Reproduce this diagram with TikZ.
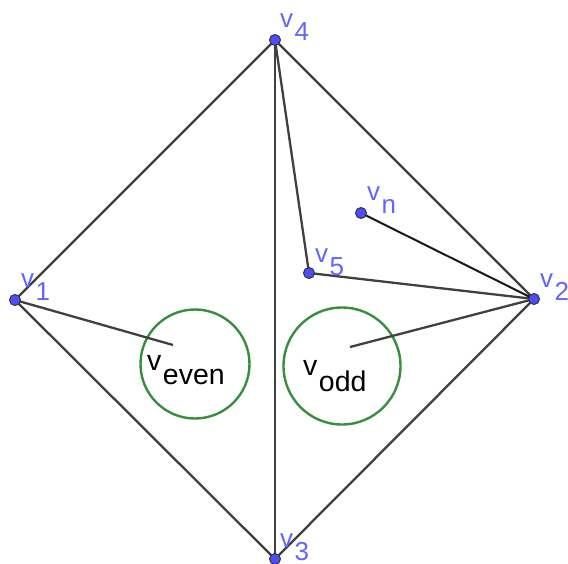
\documentclass[tikz,border=0pt]{standalone}
\usepackage{fontspec}
\setmainfont{Liberation Sans}
\definecolor{ptblue}{RGB}{77,77,255}
\definecolor{lblblue}{RGB}{100,100,255}
\definecolor{edgegray}{RGB}{64,64,64}
\definecolor{circgreen}{RGB}{56,142,60}
\newcommand{\vlab}[1]{v\kern1.5pt\lower13pt\hbox{#1}}
\newcommand{\vbig}[2]{v\kern1.5pt\lower#2pt\hbox{#1}}
\begin{document}
\begin{tikzpicture}[x=1pt,y=-1pt,
  vert/.style={circle,fill=ptblue,draw=black!80,line width=1pt,minimum size=11pt,inner sep=0pt},
  edge/.style={draw=edgegray,line width=2.3pt},
  darkedge/.style={draw=black!90,line width=2pt},
  grp/.style={circle,draw=circgreen,line width=2.4pt,inner sep=0pt},
  lbl/.style={anchor=base west,inner sep=0pt,text=lblblue,font=\fontsize{26}{26}\selectfont},
  biglbl/.style={anchor=base west,inner sep=0pt,text=black,font=\fontsize{28.5}{28.5}\selectfont}]
\useasboundingbox (0,0) rectangle (568,563);
\coordinate (p1) at (15,300);
\coordinate (p2) at (534,299);
\coordinate (p3) at (275,559);
\coordinate (p4) at (275,40);
\coordinate (p5) at (309,273);
\coordinate (pn) at (361,213);
\node[grp,minimum size=109pt] (ceven) at (195,364) {};
\node[grp,minimum size=117pt] (codd) at (342,366) {};
\coordinate (eeven) at (173,345);
\coordinate (eodd) at (350,347);
\draw[edge] (p1) -- (p4);
\draw[edge] (p4) -- (p2);
\draw[edge] (p2) -- (p3);
\draw[edge] (p3) -- (p1);
\draw[edge] (p4) -- (p3);
\draw[edge] (p4) -- (p5);
\draw[edge] (p5) -- (p2);
\draw[darkedge] (pn) -- (p2);
\draw[edge] (p1) -- (eeven);
\draw[edge] (p2) -- (eodd);
\node[vert] (v1) at (p1) {};
\node[vert] (v2) at (p2) {};
\node[vert] (v3) at (p3) {};
\node[vert] (v4) at (p4) {};
\node[vert] (v5) at (p5) {};
\node[vert] (vn) at (pn) {};
\node[lbl] (l4) at (280,27) {\vlab{4}};
\node[lbl] (l1) at (21,287) {\vlab{1}};
\node[lbl] (l3) at (280,547) {\vlab{3}};
\node[lbl] (l2) at (540,287) {\vlab{2}};
\node[lbl] (ln) at (367,200) {\vlab{n}};
\node[lbl] (l5) at (315,262) {\vlab{5}};
\node[biglbl] (leven) at (147,370) {\vbig{even}{14}};
\node[biglbl] (lodd) at (303,375) {\vbig{odd}{16}};
\end{tikzpicture}
\end{document}
